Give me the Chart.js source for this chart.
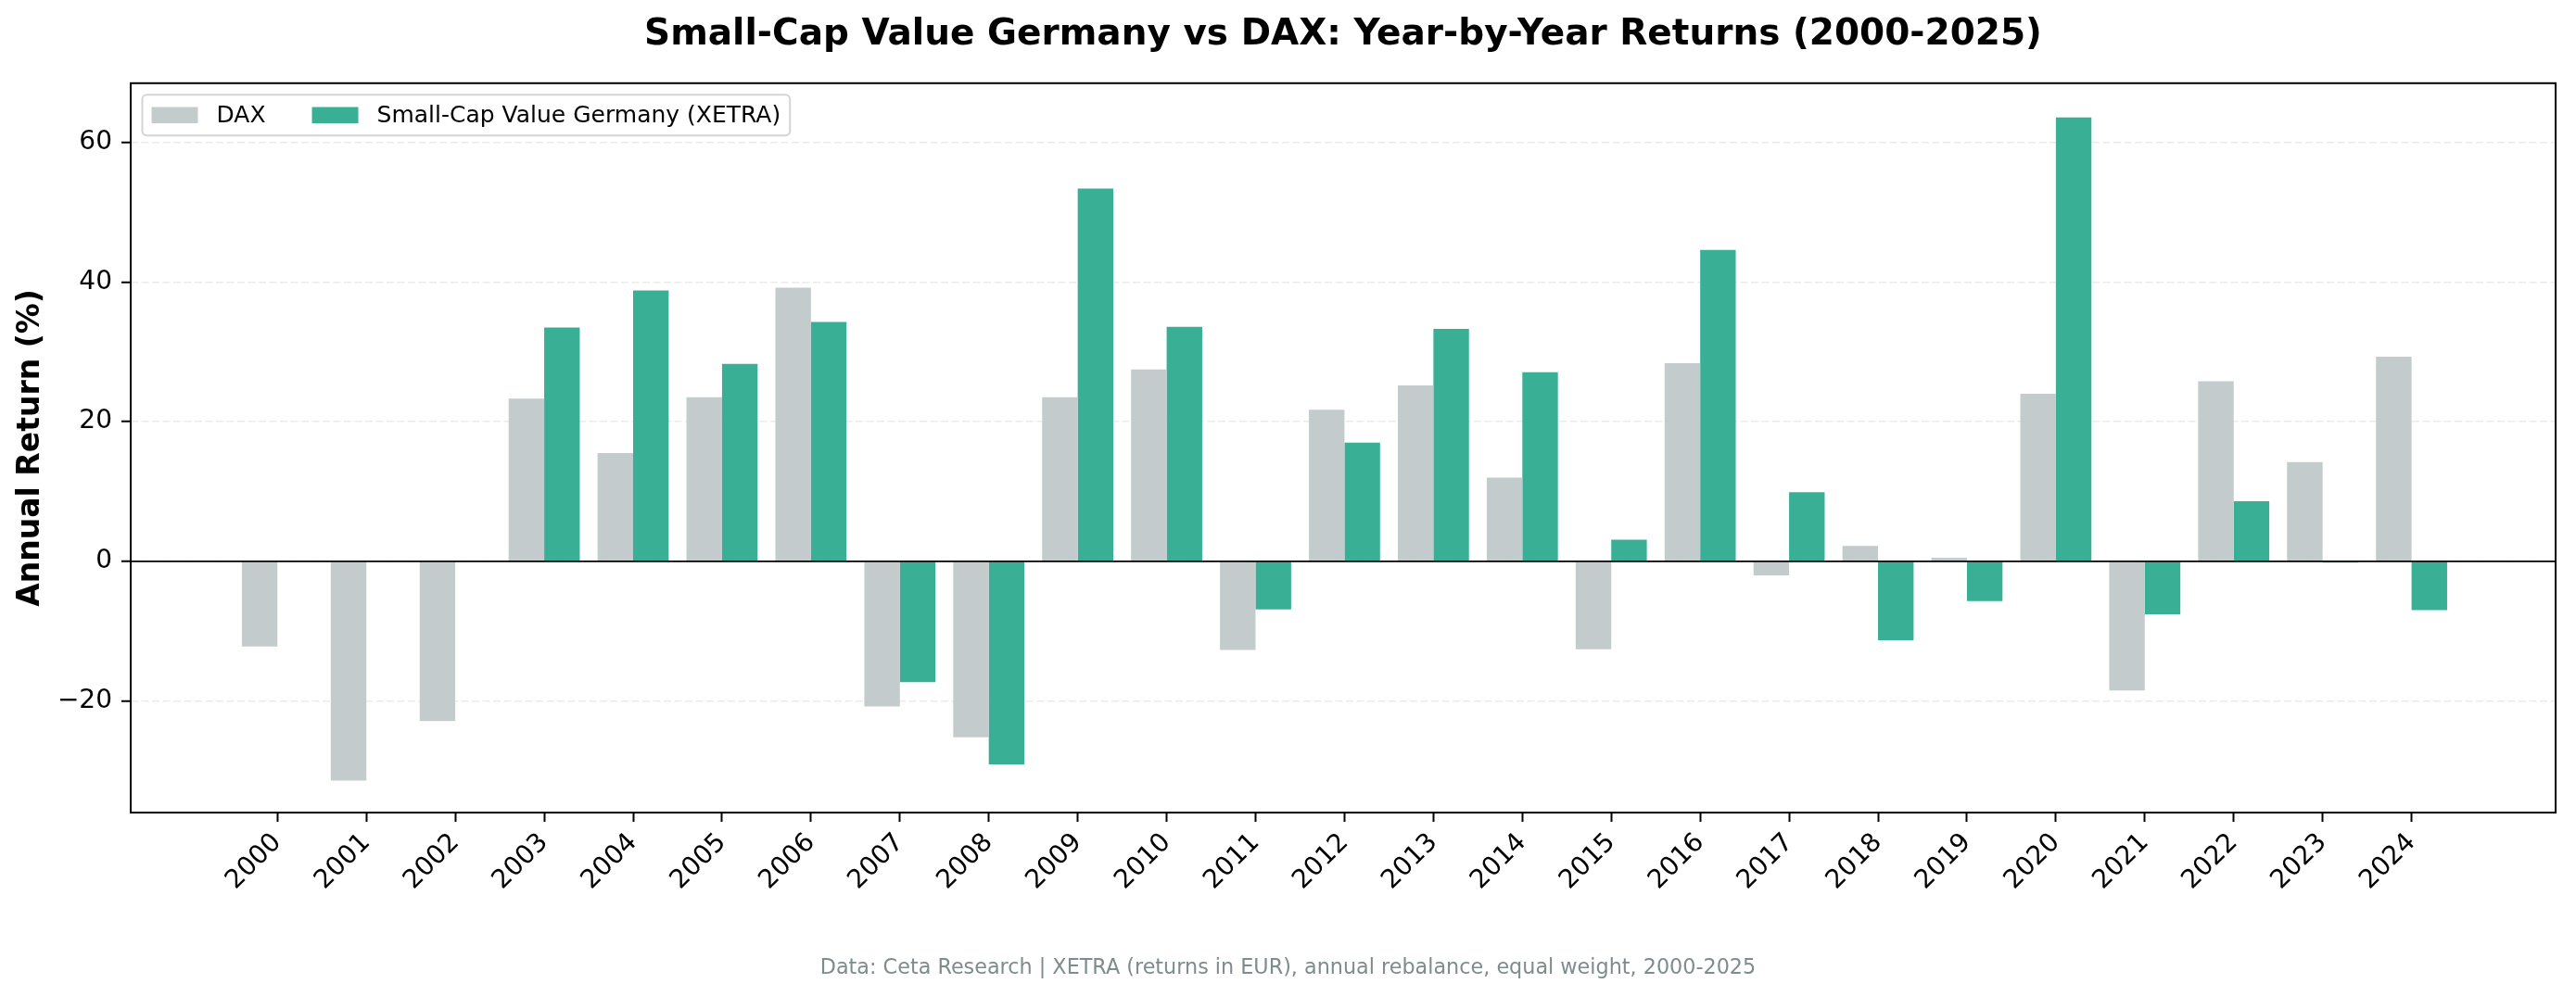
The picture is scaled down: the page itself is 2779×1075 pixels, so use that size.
<!DOCTYPE html>
<html lang="en">
<head>
<meta charset="UTF-8">
<title>Small-Cap Value Germany vs DAX</title>
<style>
    body { margin: 0; background-color: #fff; }
    canvas { display: block; }
</style>
<script src="https://cdn.jsdelivr.net/npm/chart.js"></script>
</head>
<body>

<canvas id="returnsChart" width="2779" height="1075"></canvas>

<script>
const years = [2000, 2001, 2002, 2003, 2004, 2005, 2006, 2007, 2008, 2009, 2010, 2011, 2012,
               2013, 2014, 2015, 2016, 2017, 2018, 2019, 2020, 2021, 2022, 2023, 2024];
const daxReturns = [-12.2, -31.4, -22.9, 23.3, 15.5, 23.5, 39.2, -20.8, -25.2, 23.5, 27.5, -12.7, 21.7,
                    25.2, 12.0, -12.6, 28.4, -2.0, 2.2, 0.5, 24.0, -18.5, 25.8, 14.2, 29.3];
const smallCapReturns = [null, null, null, 33.5, 38.8, 28.3, 34.3, -17.3, -29.1, 53.4, 33.6, -6.9, 17.0,
                         33.3, 27.1, 3.1, 44.6, 9.9, -11.3, -5.7, 63.6, -7.6, 8.6, -0.2, -7.0];
const yTicks = [-20, 0, 20, 40, 60];

const FONT = '"DejaVu Sans", sans-serif';
const footnote = 'Data: Ceta Research | XETRA (returns in EUR), annual rebalance, equal weight, 2000-2025';

// box round the plot, zero line and the in-plot legend
const frameAndLegend = {
    id: 'frameAndLegend',
    afterDatasetsDraw(chart) {
        const { ctx, chartArea: a, scales } = chart;
        const y0 = scales.y.getPixelForValue(0);
        ctx.save();
        ctx.strokeStyle = '#000';
        ctx.lineWidth = 1.6;
        ctx.beginPath();
        ctx.moveTo(a.left, y0);
        ctx.lineTo(a.right, y0);
        ctx.stroke();
        ctx.lineWidth = 2;
        ctx.strokeRect(a.left, a.top, a.right - a.left, a.bottom - a.top);

        const em = 25;
        ctx.font = em + 'px ' + FONT;
        const items = chart.data.datasets.map(ds => ({
            label: ds.label, color: ds.backgroundColor, w: ctx.measureText(ds.label).width
        }));
        const pad = 0.4 * em, handle = 2 * em, gap = 0.8 * em, colSp = 2 * em;
        const bx = a.left + 0.5 * em, by = a.top + 0.5 * em;
        let bw = 2 * pad + colSp * (items.length - 1);
        items.forEach(it => { bw += handle + gap + it.w; });
        const bh = 44;
        ctx.fillStyle = 'rgba(255,255,255,0.8)';
        ctx.strokeStyle = '#d4d4d4';
        ctx.lineWidth = 2;
        ctx.beginPath();
        ctx.roundRect(bx, by, bw, bh, 5);
        ctx.fill();
        ctx.stroke();

        let x = bx + pad;
        const cy = by + bh / 2;
        ctx.textBaseline = 'middle';
        ctx.textAlign = 'left';
        items.forEach(it => {
            ctx.fillStyle = it.color;
            ctx.fillRect(x, cy - 0.35 * em, handle, 0.7 * em);
            x += handle + gap;
            ctx.fillStyle = '#000';
            ctx.fillText(it.label, x, cy + 1);
            x += it.w + colSp;
        });
        ctx.restore();
    }
};

const ctx = document.getElementById('returnsChart').getContext('2d');
new Chart(ctx, {
    type: 'bar',
    data: {
        datasets: [{
            label: 'DAX',
            data: years.map((yr, i) => ({ x: yr, y: daxReturns[i] })),
            backgroundColor: '#c3cbcc'
        }, {
            label: 'Small-Cap Value Germany (XETRA)',
            data: years.map((yr, i) => ({ x: yr, y: smallCapReturns[i] })),
            backgroundColor: '#39af96'
        }]
    },
    plugins: [frameAndLegend],
    options: {
        responsive: false,
        animation: false,
        devicePixelRatio: 1,
        categoryPercentage: 0.8,
        barPercentage: 1.0,
        layout: { padding: 0 },
        scales: {
            x: {
                type: 'linear',
                offset: false,
                min: 1998.35,
                max: 2025.62,
                afterBuildTicks: scale => { scale.ticks = years.map(v => ({ value: v })); },
                afterFit: scale => { scale.height = 154.7; },
                grid: {
                    offset: false,
                    drawOnChartArea: false,
                    drawTicks: true,
                    tickLength: 10,
                    tickWidth: 2,
                    tickColor: '#000',
                    tickBorderDash: []
                },
                border: { display: false },
                ticks: {
                    autoSkip: false,
                    maxRotation: 45,
                    minRotation: 45,
                    padding: 6,
                    color: '#000',
                    font: { family: FONT, size: 28 },
                    callback: v => String(v)
                }
            },
            y: {
                min: -36,
                max: 68.5,
                afterBuildTicks: scale => { scale.ticks = yTicks.map(v => ({ value: v })); },
                afterFit: scale => { scale.width = 141; },
                grid: {
                    color: '#ebebeb',
                    lineWidth: 1.5,
                    drawTicks: true,
                    tickLength: 10,
                    tickWidth: 2,
                    tickColor: '#000',
                    tickBorderDash: []
                },
                border: { display: false, dash: [8, 3.5] },
                ticks: {
                    padding: 10,
                    color: '#000',
                    font: { family: FONT, size: 28 },
                    callback: v => String(v).replace('-', '\u2212')
                },
                title: {
                    display: true,
                    text: 'Annual Return (%)',
                    color: '#000',
                    font: { family: FONT, size: 33, weight: 'bold' },
                    padding: { top: 14, bottom: 0 }
                }
            },
            // empty right margin so the footnote stays centred on the page
            yRight: {
                position: 'right',
                display: true,
                afterFit: scale => { scale.width = 22; },
                grid: { display: false },
                border: { display: false },
                ticks: { display: false }
            }
        },
        plugins: {
            legend: { display: false },
            tooltip: { enabled: false },
            title: {
                display: true,
                fullSize: false,
                text: 'Small-Cap Value Germany vs DAX: Year-by-Year Returns (2000-2025)',
                color: '#000',
                font: { family: FONT, size: 39, weight: 'bold' },
                padding: { top: 14.5, bottom: 28.5 }
            },
            subtitle: {
                display: true,
                position: 'bottom',
                text: footnote,
                color: '#7f8c8d',
                font: { family: FONT, size: 22.3 },
                padding: { top: 0, bottom: 16.5 }
            }
        }
    }
});
</script>

</body>
</html>
